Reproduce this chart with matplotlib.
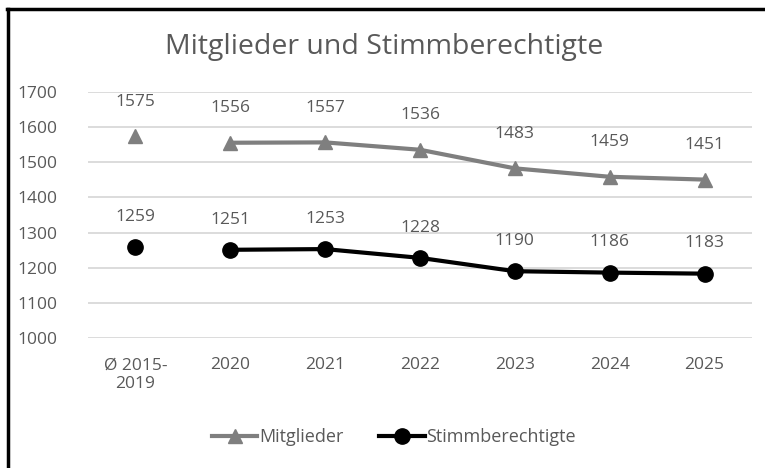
import matplotlib.pyplot as plt
from matplotlib.lines import Line2D

plt.rcParams['font.family'] = ['Open Sans', 'DejaVu Sans']

categories = ['Ø 2015-\n2019', '2020', '2021', '2022', '2023', '2024', '2025']
mitglieder = [1575, 1556, 1557, 1536, 1483, 1459, 1451]
stimmberechtigte = [1259, 1251, 1253, 1228, 1190, 1186, 1183]

txt = '#595959'
grau = '#7f7f7f'

fig = plt.figure(figsize=(7.65, 4.68), dpi=100)
ax = fig.add_axes([0.115, 0.278, 0.868, 0.525])

x = list(range(len(categories)))

# first point (average) is shown on its own, the rest connected
ax.plot(x[1:], mitglieder[1:], color=grau, lw=3, marker='^', ms=10, zorder=3)
ax.plot(x[:1], mitglieder[:1], color=grau, lw=0, marker='^', ms=10, zorder=3)
ax.plot(x[1:], stimmberechtigte[1:], color='black', lw=3, marker='o', ms=11, zorder=3)
ax.plot(x[:1], stimmberechtigte[:1], color='black', lw=0, marker='o', ms=11, zorder=3)

for i in x:
    ax.annotate(str(mitglieder[i]), (i, mitglieder[i]), xytext=(0, 19), textcoords='offset points',
                ha='center', va='bottom', fontsize=12.5, color=txt)
    ax.annotate(str(stimmberechtigte[i]), (i, stimmberechtigte[i]), xytext=(0, 16), textcoords='offset points',
                ha='center', va='bottom', fontsize=12.5, color=txt)

ax.set_xlim(-0.5, 6.5)
ax.set_ylim(1000, 1700)
ax.set_yticks(range(1000, 1701, 100))
ax.set_xticks(x)
ax.set_xticklabels(categories)
ax.grid(axis='y', color='#d9d9d9', lw=1.3)
ax.set_axisbelow(True)
for s in ax.spines.values():
    s.set_visible(False)
ax.tick_params(length=0, labelsize=12.5, colors=txt)
ax.tick_params(axis='x', pad=14)
ax.tick_params(axis='y', pad=22)

fig.text(0.502, 0.9, 'Mitglieder und Stimmberechtigte', ha='center', va='center', fontsize=20.5, color=txt)

handles = [Line2D([], [], color=grau, lw=3, marker='^', ms=10),
           Line2D([], [], color='black', lw=3, marker='o', ms=11)]
fig.legend(handles, ['Mitglieder', 'Stimmberechtigte'], loc='center', bbox_to_anchor=(0.515, 0.066),
           ncol=2, frameon=False, fontsize=13, labelcolor=txt, handlelength=2.5,
           handletextpad=0.1, columnspacing=2.0)

# frame only on the left and top edges
fig.add_artist(Line2D([0.011, 0.011], [0.0, 0.981], transform=fig.transFigure, color='black', lw=2.5))
fig.add_artist(Line2D([0.0095, 1.0], [0.981, 0.981], transform=fig.transFigure, color='black', lw=2.5))

fig.savefig('out.png', dpi=100)
